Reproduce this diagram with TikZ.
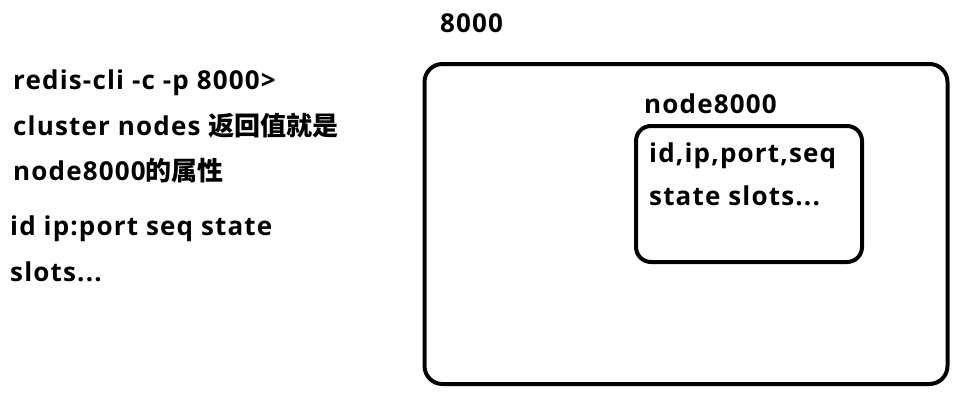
\documentclass[tikz,border=0pt]{standalone}
\usepackage{fontspec}
\setmainfont{Open Sans}[LetterSpace=4.5]
\newfontfamily\cjk{Noto Sans CJK SC Bold}
\usetikzlibrary{positioning}

\begin{document}
\begin{tikzpicture}[x=1pt,y=-1pt]
			\tikzset{txt/.style={anchor=base west,inner sep=0pt,font=\bfseries\fontsize{26}{26}\selectfont},
				box/.style={draw,line width=4pt,rounded corners=18pt,inner sep=0pt}}
			\useasboundingbox (0,0) rectangle (965,404);

			\node[box,minimum width=523pt,minimum height=320pt] (outer) at (686,224) {};
			\node[box,rounded corners=15pt,minimum width=226pt,minimum height=136pt] (inner) at (749,194) {};

			\node[txt] (port) at (440,33) {8000};
			\node[txt] (nodename) at (644,113) {node8000};
			\node[txt] (attr1) at (649,162) {id,ip,port,seq};
			\node[txt] (attr2) at (649,205) {state slots...};

			\node[txt] (cmd1) at (13,89) {redis-cli -c -p 8000>};
			\node[txt] (cmd2) at (13,135) {cluster nodes {\cjk 返回值就是}};
			\node[txt] (cmd3) at (13,180) {node8000{\cjk 的属性}};
			\node[txt] (fmt1) at (10,235) {id ip:port seq state};
			\node[txt] (fmt2) at (10,281) {slots...};
		\end{tikzpicture}
\end{document}
